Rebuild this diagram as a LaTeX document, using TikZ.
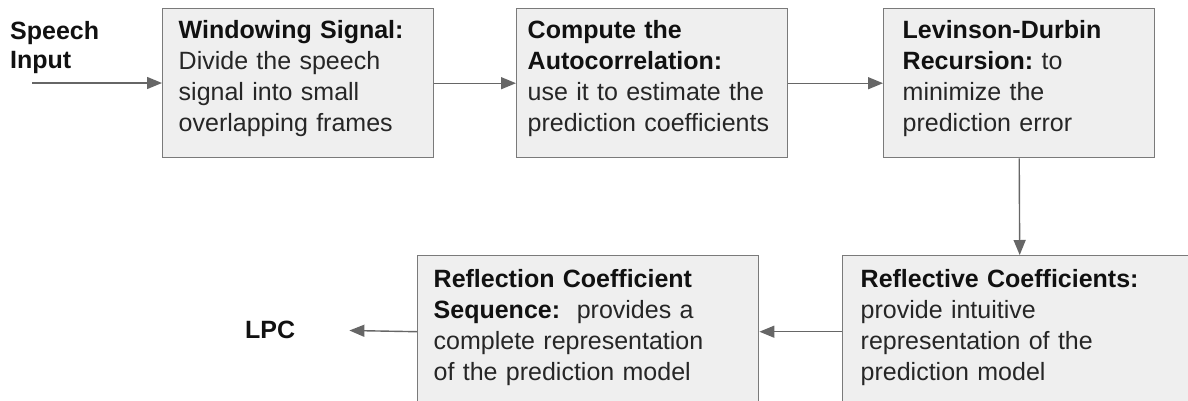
\documentclass[tikz,border=0pt]{standalone}
\usepackage{fontspec}
\setmainfont{Liberation Sans}
\usepackage{tikz}
\usetikzlibrary{arrows.meta}
\definecolor{boxfill}{HTML}{efefef}
\definecolor{boxline}{HTML}{7a7a7a}
\definecolor{flowcol}{HTML}{666666}
\definecolor{textcol}{HTML}{262626}
\definecolor{headcol}{HTML}{111111}
\newcommand{\hd}[1]{{\color{headcol}\bfseries #1}}
\frenchspacing

\begin{document}
\begin{tikzpicture}[x=1pt, y=-1pt,
    stage/.style={draw=boxline, fill=boxfill, line width=1.4pt, anchor=north west,
      align=left, minimum height=149pt, inner ysep=0pt, text=textcol,
      font=\fontsize{25}{31}\selectfont,
      execute at end node={\rule[-14pt]{0pt}{0pt}}},
    flow/.style={draw=flowcol, line width=1.4pt, -{Triangle[length=15pt, width=12pt]}},
    term/.style={inner sep=0pt, text=headcol, font=\bfseries\fontsize{25}{29}\selectfont}
  ]
    \useasboundingbox (0,0) rectangle (1188,400);
    % top row
    \node[stage, text width=239pt, inner xsep=16pt] (win) at (162,8)
      {\hd{Windowing Signal:}\\Divide the speech\\signal into small\\overlapping frames};
    \node[stage, text width=249pt, inner xsep=11pt] (acf) at (516,8)
      {\hd{Compute the}\\\hd{Autocorrelation:}\\use it to estimate the\\prediction coefficients};
    \node[stage, text width=233pt, inner xsep=19pt] (lev) at (883,8)
      {\hd{Levinson-Durbin}\\\hd{Recursion:} to\\minimize the\\prediction error};
    % bottom row
    \node[stage, text width=318pt, inner xsep=18pt, minimum height=152pt] (refl) at (842,255)
      {\hd{Reflective Coefficients:}\\provide intuitive\\representation of the\\prediction model};
    \node[stage, text width=309pt, inner xsep=16pt, minimum height=152pt] (seq) at (417,255)
      {\hd{Reflection Coefficient}\\\hd{Sequence:}\ \ provides a\\complete representation\\of the prediction model};
    % in and out
    \node[term, anchor=north west, align=left] (speech) at (10,21) {Speech\\Input};
    \node[term, anchor=west] (lpc) at (245,329.5) {LPC};
    \coordinate (src) at (32,83);
    % arrows
    \draw[flow] (src) -- (src -| win.west);
    \draw[flow] (win.east) -- (acf.west);
    \draw[flow] (acf.east) -- (lev.west);
    \draw[flow] (lev.south) -- (refl.north);
    \draw[flow] (refl.west) -- (seq.east);
    \draw[flow, shorten >=54pt] (seq.west) -- (lpc.east);
\end{tikzpicture}
\end{document}
